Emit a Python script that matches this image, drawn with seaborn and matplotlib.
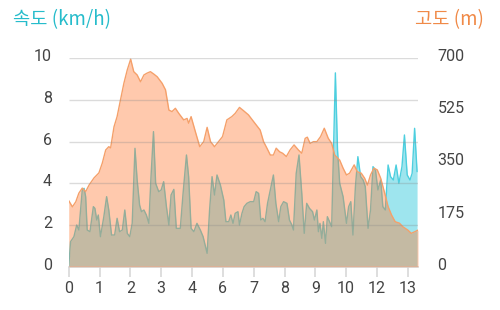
import numpy as np
import pandas as pd
import matplotlib
matplotlib.use("Agg")
import matplotlib.pyplot as plt
import matplotlib.transforms as mtransforms
import seaborn as sns

# ---------------- data ----------------
tick_labels = ['0', '1', '2', '3', '4', '6', '7', '8', '9', '10', '12', '13']

speed_pos = [0.00, 0.06, 0.17, 0.26, 0.33, 0.44, 0.50, 0.55, 0.60, 0.69, 0.80, 0.85, 0.91, 0.96,
             1.03, 1.14, 1.23, 1.30, 1.39, 1.49, 1.57, 1.65, 1.74, 1.82, 1.90, 1.98, 2.06, 2.15,
             2.22, 2.30, 2.36, 2.44, 2.52, 2.60, 2.67, 2.75, 2.82, 2.92, 3.00, 3.08, 3.17, 3.25,
             3.32, 3.41, 3.49, 3.62, 3.71, 3.82, 3.89, 3.97, 4.06, 4.16, 4.27, 4.36, 4.49, 4.57,
             4.65, 4.73, 4.81, 4.92, 5.03, 5.10, 5.19, 5.26, 5.33, 5.40, 5.49, 5.54, 5.62, 5.69,
             5.78, 5.89, 6.00, 6.08, 6.16, 6.23, 6.30, 6.37, 6.45, 6.54, 6.64, 6.72, 6.81, 6.88,
             6.97, 7.08, 7.16, 7.24, 7.29, 7.38, 7.47, 7.56, 7.64, 7.72, 7.81, 7.91, 7.97, 8.05,
             8.10, 8.15, 8.21, 8.26, 8.33, 8.39, 8.46, 8.53, 8.65, 8.72, 8.79, 8.90, 9.01, 9.08,
             9.15, 9.22, 9.30, 9.38, 9.47, 9.55, 9.62, 9.71, 9.79, 9.87, 9.95, 10.03, 10.12,
             10.19, 10.27, 10.36, 10.44, 10.53, 10.62, 10.71, 10.81, 10.89, 10.98, 11.07, 11.14,
             11.22, 11.30]
speed_kmh = [0.00, 1.20, 1.44, 2.00, 1.76, 3.68, 3.76, 3.36, 1.76, 1.68, 2.88, 2.80, 2.24, 2.48,
             1.44, 2.40, 3.36, 2.72, 1.52, 1.52, 2.32, 1.68, 1.76, 2.72, 1.60, 1.44, 2.08, 5.68,
             4.16, 2.96, 2.64, 2.72, 2.48, 2.08, 4.32, 6.48, 4.00, 3.60, 3.68, 4.08, 2.88, 2.00,
             3.44, 3.71, 1.84, 1.84, 3.52, 5.36, 4.32, 1.84, 1.68, 2.08, 1.76, 1.44, 0.64, 2.72,
             4.32, 3.44, 4.40, 3.92, 3.20, 2.16, 2.16, 2.48, 2.08, 2.56, 2.64, 2.00, 2.56, 2.88,
             3.04, 3.12, 3.12, 3.60, 3.52, 2.24, 2.32, 2.16, 3.04, 3.68, 4.40, 3.04, 2.16, 2.88,
             3.12, 3.04, 2.24, 2.00, 1.76, 4.48, 5.36, 3.52, 1.60, 3.04, 2.80, 2.64, 2.24, 2.72,
             1.68, 2.08, 1.36, 2.16, 1.12, 2.40, 2.16, 1.92, 9.30, 5.60, 4.00, 3.36, 2.08, 2.88,
             3.12, 1.52, 3.84, 5.28, 4.32, 4.16, 3.84, 1.84, 2.72, 4.80, 4.64, 3.68, 4.16,
             2.88, 2.72, 4.88, 4.32, 4.16, 4.88, 4.00, 4.80, 6.32, 4.40, 4.16, 4.48,
             6.64, 4.56]

alt_pos = [0.00, 0.12, 0.23, 0.33, 0.44, 0.55, 0.66, 0.82, 0.98, 1.09, 1.20, 1.30, 1.36, 1.47,
           1.57, 1.68, 1.79, 1.90, 2.01, 2.11, 2.22, 2.33, 2.44, 2.54, 2.65, 2.76, 2.87, 3.03,
           3.14, 3.25, 3.35, 3.46, 3.57, 3.73, 3.84, 3.89, 3.97, 4.11, 4.25, 4.38, 4.49, 4.60,
           4.73, 4.86, 4.99, 5.13, 5.29, 5.40, 5.54, 5.67, 5.83, 6.00, 6.21, 6.32, 6.43, 6.54,
           6.64, 6.73, 6.84, 6.94, 7.06, 7.18, 7.31, 7.45, 7.56, 7.67, 7.74, 7.83, 7.94, 8.05,
           8.17, 8.29, 8.42, 8.53, 8.63, 8.79, 8.90, 9.01, 9.11, 9.26, 9.36, 9.49, 9.60, 9.69,
           9.79, 9.90, 10.01, 10.12, 10.25, 10.36, 10.47, 10.59, 10.73, 10.84, 11.00, 11.11,
           11.24, 11.33]
alt_m = [222, 201, 218, 247, 264, 252, 274, 298, 315, 348, 392, 403, 399, 470,
         504, 560, 616, 661, 697, 655, 644, 621, 644, 650, 655, 647, 638, 616,
         594, 526, 521, 532, 515, 493, 498, 482, 504, 453, 403, 420, 468, 420,
         403, 420, 437, 493, 504, 515, 535, 524, 510, 487, 459, 420, 398, 375,
         375, 398, 386, 381, 370, 392, 409, 392, 381, 431, 435, 414, 420, 420,
         437, 465, 431, 414, 375, 358, 331, 308, 314, 342, 319, 314, 297, 274,
         308, 331, 325, 297, 247, 202, 174, 151, 146, 134, 123, 112,
         118, 123]

speed_ticks = [0, 2, 4, 6, 8, 10]
alt_ticks = [0, 175, 350, 525, 700]

speed_df = pd.DataFrame({"pos": speed_pos, "speed": speed_kmh})
alt_df = pd.DataFrame({"pos": alt_pos, "alt": alt_m})

# ---------------- style ----------------
sns.set_theme(style="white")
plt.rcParams['font.family'] = ['Roboto', 'Noto Sans CJK KR', 'DejaVu Sans']

SPEED_LINE = '#4DCFDF'
SPEED_FILL = '#00BCD4'
ALT_LINE = '#F5A06A'
ALT_FILL = '#FF7A33'
TXT = '#444444'

fig = plt.figure(figsize=(5.0, 3.1), dpi=100)
ax = fig.add_axes([0.1374, 0.1397, 0.6986, 0.6723])
ax2 = ax.twinx()

# speed (left axis)
ax.fill_between(speed_df["pos"], speed_df["speed"], 0, color=SPEED_FILL, alpha=0.38,
                linewidth=0, zorder=1)
sns.lineplot(data=speed_df, x="pos", y="speed", ax=ax, color=SPEED_LINE, linewidth=1.0,
             zorder=2, estimator=None, sort=False)

# altitude (right axis), drawn on top
ax2.fill_between(alt_df["pos"], alt_df["alt"], 0, color=ALT_FILL, alpha=0.4,
                 linewidth=0, zorder=1)
sns.lineplot(data=alt_df, x="pos", y="alt", ax=ax2, color=ALT_LINE, linewidth=1.0,
             zorder=2, estimator=None, sort=False)

ax.set_xlabel("")
ax.set_ylabel("")
ax2.set_xlabel("")
ax2.set_ylabel("")

# grid lines of the left axis, drawn above both fills
ax2.hlines(speed_ticks, 0, 1, transform=ax.get_yaxis_transform(), colors='#8A8A8A',
           alpha=0.3, linewidth=1.0, zorder=5)
ax.set_ylim(0, 10)
ax2.set_ylim(0, 700)
ax.set_xlim(0, 11.33)

ax.set_xticks(range(len(tick_labels)))
ax.set_xticklabels(tick_labels)
ax.set_yticks(speed_ticks)
ax.set_yticklabels([str(v) for v in speed_ticks])
ax2.set_yticks(alt_ticks)
ax2.set_yticklabels([str(v) for v in alt_ticks])

ax.tick_params(axis='x', length=7, width=1.2, color='#D8D8D8', pad=3, labelsize=11.5,
               labelcolor=TXT, bottom=True)
ax.tick_params(axis='y', length=0, pad=12, labelsize=11.5, labelcolor=TXT)
ax2.tick_params(axis='y', length=0, pad=14, labelsize=11.5, labelcolor=TXT)

shift = mtransforms.ScaledTranslation(0, 3 / 100.0, fig.dpi_scale_trans)
for lab in ax.get_yticklabels() + ax2.get_yticklabels():
    lab.set_transform(lab.get_transform() + shift)

for sp in ['top', 'left', 'right']:
    ax.spines[sp].set_visible(False)
    ax2.spines[sp].set_visible(False)
ax2.spines['bottom'].set_visible(False)
ax.spines['bottom'].set_color('#D8D8D8')
ax.spines['bottom'].set_linewidth(1.2)

fig.text(13 / 500, 1 - 20 / 310, "속도 (km/h)", color='#26BCCB', fontsize=13.5,
         ha='left', va='center', family=['Noto Sans CJK KR', 'DejaVu Sans'])
fig.text(484 / 500, 1 - 20 / 310, "고도 (m)", color='#F08A48', fontsize=13.5,
         ha='right', va='center', family=['Noto Sans CJK KR', 'DejaVu Sans'])

fig.savefig("out.png", dpi=100)
